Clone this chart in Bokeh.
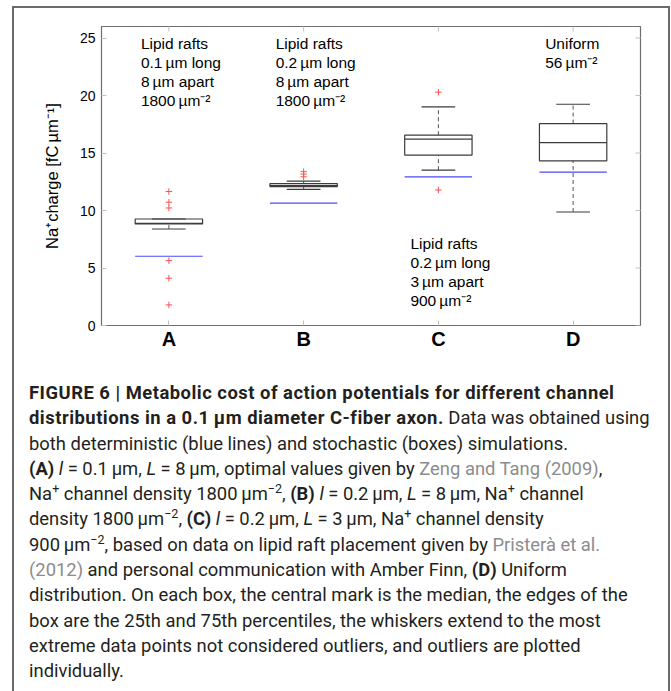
import numpy as np
from bokeh.plotting import figure
from bokeh.models import ColumnDataSource, Div, FactorRange, Range1d, FixedTicker
from bokeh.layouts import column
from bokeh.transform import dodge
from bokeh.core.properties import value
from bokeh.embed import file_html
from bokeh.resources import INLINE

# ---------------- data ----------------
categories = ["A", "B", "C", "D"]
q1 = [8.83, 12.07, 14.82, 14.32]
median = [8.88, 12.18, 16.20, 15.91]
q3 = [9.26, 12.35, 16.55, 17.56]
whisker_low = [8.39, 11.84, 13.51, 9.87]
whisker_high = [9.26, 12.56, 19.01, 19.24]
deterministic = [6.02, 10.65, 12.93, 13.34]
outliers_A = [11.65, 10.72, 10.22, 5.64, 4.11, 1.79]
outliers_B = [13.38, 13.17, 12.93]
outliers_C = [20.29, 11.78]
outliers_D = []
y_ticks = [0, 5, 10, 15, 20, 25]
annotations = [
    "Lipid rafts\n0.1\u2009µm long\n8\u2009µm apart\n1800\u2009µm\u207b\u00b2",
    "Lipid rafts\n0.2\u2009µm long\n8\u2009µm apart\n1800\u2009µm\u207b\u00b2",
    "Lipid rafts\n0.2\u2009µm long\n3\u2009µm apart\n900\u2009µm\u207b\u00b2",
    "Uniform\n56\u2009µm\u207b\u00b2",
]
annotation_y = [25.3, 25.3, 7.85, 25.3]

FONT = "Liberation Sans"

src = ColumnDataSource(dict(cat=categories, q1=q1, med=median, q3=q3,
                            lo=whisker_low, hi=whisker_high, det=deterministic))

p = figure(width=671, height=380,
           x_range=FactorRange(*categories, range_padding=0),
           y_range=Range1d(0, 26),
           output_backend="svg", toolbar_location=None,
           min_border_left=101, min_border_right=31,
           min_border_top=26, min_border_bottom=55)
p.xgrid.visible = False
p.ygrid.visible = False
p.outline_line_color = "#6e6e6e"
p.outline_line_width = 1.2
p.background_fill_color = "white"
p.border_fill_color = "white"

tick_col = "#c0c0c0"
# bottom axis
xa = p.xaxis[0]
xa.axis_line_color = None
xa.major_tick_in = 5
xa.major_tick_out = 0
xa.major_tick_line_color = tick_col
xa.major_label_text_font = FONT
xa.major_label_text_font_style = "bold"
xa.major_label_text_font_size = "20px"
xa.major_label_text_color = "black"
xa.major_label_standoff = 2
# left axis
ya = p.yaxis[0]
ya.ticker = FixedTicker(ticks=y_ticks)
ya.axis_line_color = None
ya.major_tick_in = 5
ya.major_tick_out = 0
ya.minor_tick_line_color = None
ya.major_tick_line_color = tick_col
ya.major_label_text_font = FONT
ya.major_label_text_font_size = "14px"
ya.major_label_text_color = "black"
ya.major_label_standoff = 6
ya.axis_label = "Na\u207acharge [fC\u2009µm\u207b\u00b9]"
ya.axis_label_text_font = FONT
ya.axis_label_text_font_style = "normal"
ya.axis_label_text_font_size = "16.5px"
ya.axis_label_text_color = "black"
ya.axis_label_standoff = 16

# mirrored tick marks on top and right (half-clipped dashes at the frame edges)
p.scatter(x=categories, y=[26] * len(categories),
          marker="dash", angle=np.pi / 2, size=10, line_color=tick_col, line_width=1)
p.scatter(x=dodge("x", 0.5, range=p.x_range), y="y",
          source=ColumnDataSource(dict(x=["D"] * len(y_ticks), y=y_ticks)),
          marker="dash", size=10, line_color=tick_col, line_width=1)

box_col = "#3c3c3c"
wh_col = "#555555"
# whiskers (dashed)
p.segment(x0="cat", x1="cat", y0="q3", y1="hi", source=src,
          line_color=wh_col, line_dash="4 3", line_width=1)
p.segment(x0="cat", x1="cat", y0="lo", y1="q1", source=src,
          line_color=wh_col, line_dash="4 3", line_width=1)
# caps
for col in ("hi", "lo"):
    p.segment(x0=dodge("cat", -0.125, range=p.x_range), x1=dodge("cat", 0.125, range=p.x_range),
              y0=col, y1=col, source=src, line_color=box_col, line_width=1.2)
# boxes
p.vbar(x="cat", width=0.5, bottom="q1", top="q3", source=src,
       fill_color=None, line_color=box_col, line_width=1.2)
# medians
p.segment(x0=dodge("cat", -0.25, range=p.x_range), x1=dodge("cat", 0.25, range=p.x_range),
          y0="med", y1="med", source=src, line_color=box_col, line_width=1.2)
# deterministic (blue lines)
p.segment(x0=dodge("cat", -0.25, range=p.x_range), x1=dodge("cat", 0.25, range=p.x_range),
          y0="det", y1="det", source=src, line_color="#4a4aff", line_width=1.2)

# outliers
out_cat, out_val = [], []
for c, vals in zip(categories, [outliers_A, outliers_B, outliers_C, outliers_D]):
    out_cat += [c] * len(vals)
    out_val += vals
p.scatter(x=out_cat, y=out_val, marker="cross", size=6.5,
          line_color="#ff5050", line_width=1)

# annotations
p.text(x=categories, y=annotation_y, text=annotations, x_offset=-28,
       text_font=value(FONT), text_font_size="15.5px", text_color="black",
       text_baseline="top", text_align="left", text_line_height=1.12)

# ---------------- caption ----------------
mu = "\u03bc"
th = "&thinsp;"
sup = lambda s: f'<sup style="font-size:68%;line-height:0;vertical-align:0.55em">{s}</sup>'
gray = lambda s: f'<span style="color:#8c8c8c">{s}</span>'
B = lambda s: f'<b style="letter-spacing:0.5px">{s}</b>'
lines = [
    B("FIGURE 6 | Metabolic cost of action potentials for different channel"),
    B(f"distributions in a 0.1{th}{mu}m diameter C-fiber axon.") + " Data was obtained using",
    "both deterministic (blue lines) and stochastic (boxes) simulations.",
    f"<b>(A)</b> <i>l</i> = 0.1{th}{mu}m, <i>L</i> = 8{th}{mu}m, optimal values given by {gray('Zeng and Tang (2009)')},",
    f"Na{sup('+')} channel density 1800{th}{mu}m{sup('&minus;2')}, <b>(B)</b> <i>l</i> = 0.2{th}{mu}m, <i>L</i> = 8{th}{mu}m, Na{sup('+')} channel",
    f"density 1800{th}{mu}m{sup('&minus;2')}, <b>(C)</b> <i>l</i> = 0.2{th}{mu}m, <i>L</i> = 3{th}{mu}m, Na{sup('+')} channel density",
    f"900{th}{mu}m{sup('&minus;2')}, based on data on lipid raft placement given by {gray('Pristerà et al.')}",
    f"{gray('(2012)')} and personal communication with Amber Finn, <b>(D)</b> Uniform",
    "distribution. On each box, the central mark is the median, the edges of the",
    "box are the 25th and 75th percentiles, the whiskers extend to the most",
    "extreme data points not considered outliers, and outliers are plotted",
    "individually.",
]
border = "2px solid #6b6b6b"
frame_top = ('<div style="position:absolute;left:-2px;top:-374px;width:658px;height:374px;'
             f'box-sizing:border-box;border-left:{border};border-right:{border};'
             f'border-top:{border};pointer-events:none"></div>')
html = ('<div style="position:relative;margin-left:7px;margin-top:-5px;width:658px;height:320px;'
        f'box-sizing:border-box;border-left:{border};border-right:{border};padding-left:15px;'
        'font-family:Roboto;font-size:18.4px;'
        'line-height:25.3px;color:#231f20;white-space:nowrap">'
        + frame_top
        + "".join(f"<div>{l}</div>" for l in lines) + "</div>")
caption = Div(text=html, width=671, height=311)

layout = column(p, caption)

open("out.html", "w").write(file_html(layout, INLINE))
